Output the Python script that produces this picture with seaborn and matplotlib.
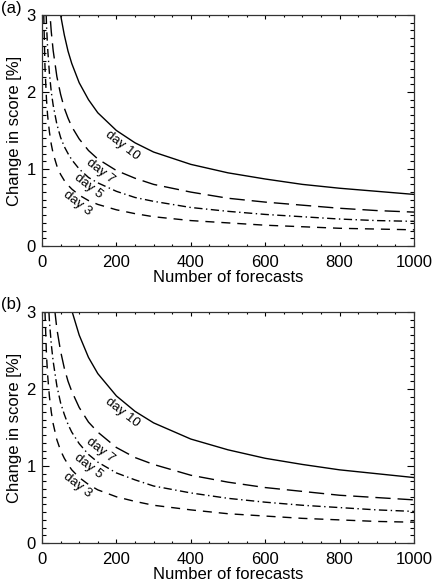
import numpy as np
import pandas as pd
import matplotlib
matplotlib.use("Agg")
import matplotlib.pyplot as plt
from matplotlib.ticker import MultipleLocator
import seaborn as sns

# number of forecasts (x) shared by all curves
n_forecasts = [4, 5, 8, 12, 15, 20, 25, 30, 40, 50, 60, 70, 80, 100, 125, 150,
               200, 250, 300, 400, 500, 600, 700, 800, 900, 1000]

# panel (a), change in score [%]
a_day10 = [10.6, 9.48, 7.50, 6.12, 5.47, 4.74, 4.24, 3.87, 3.35, 3.00, 2.74, 2.53, 2.37, 2.12, 1.90, 1.73,
           1.50, 1.34, 1.22, 1.06, 0.95, 0.87, 0.80, 0.75, 0.71, 0.67]
a_day7 = [6.95, 6.22, 4.91, 4.01, 3.59, 3.11, 2.78, 2.54, 2.20, 1.97, 1.79, 1.66, 1.55, 1.39, 1.24, 1.13,
          0.98, 0.88, 0.80, 0.70, 0.62, 0.57, 0.53, 0.49, 0.46, 0.44]
a_day5 = [5.00, 4.47, 3.54, 2.89, 2.58, 2.24, 2.00, 1.83, 1.58, 1.41, 1.29, 1.20, 1.12, 1.00, 0.89, 0.82,
          0.71, 0.63, 0.58, 0.50, 0.45, 0.41, 0.38, 0.35, 0.33, 0.32]
a_day3 = [3.30, 2.95, 2.33, 1.91, 1.70, 1.48, 1.32, 1.20, 1.04, 0.93, 0.85, 0.79, 0.74, 0.66, 0.59, 0.54,
          0.47, 0.42, 0.38, 0.33, 0.30, 0.27, 0.25, 0.23, 0.22, 0.21]

# panel (b)
b_day10 = [13.5, 12.1, 9.55, 7.79, 6.97, 6.04, 5.40, 4.93, 4.27, 3.82, 3.49, 3.23, 3.02, 2.70, 2.41, 2.20,
           1.91, 1.71, 1.56, 1.35, 1.21, 1.10, 1.02, 0.95, 0.90, 0.85]
b_day7 = [8.80, 7.87, 6.22, 5.08, 4.54, 3.94, 3.52, 3.21, 2.78, 2.49, 2.27, 2.10, 1.97, 1.76, 1.57, 1.44,
          1.24, 1.11, 1.02, 0.88, 0.79, 0.72, 0.67, 0.62, 0.59, 0.56]
b_day5 = [6.45, 5.77, 4.56, 3.72, 3.33, 2.88, 2.58, 2.36, 2.04, 1.82, 1.67, 1.54, 1.44, 1.29, 1.15, 1.05,
          0.91, 0.82, 0.74, 0.65, 0.58, 0.53, 0.49, 0.46, 0.43, 0.41]
b_day3 = [4.25, 3.80, 3.01, 2.45, 2.19, 1.90, 1.70, 1.55, 1.34, 1.20, 1.10, 1.02, 0.95, 0.85, 0.76, 0.69,
          0.60, 0.54, 0.49, 0.43, 0.38, 0.35, 0.32, 0.30, 0.28, 0.27]

day_names = ["day 10", "day 7", "day 5", "day 3"]
# label anchor positions (N, score) for each panel
label_n = [215, 156, 124, 94]
label_a = [1.31, 0.97, 0.77, 0.56]
label_b = [1.69, 1.21, 1.00, 0.75]

styles = ["-", (0, (11, 5)), (0, (6, 2.5, 1, 2.5)), (0, (6.5, 5))]

sns.set_style("ticks")
plt.rcParams["font.family"] = ["Liberation Sans", "DejaVu Sans"]
plt.rcParams["text.color"] = "black"
plt.rcParams["axes.labelcolor"] = "black"

fig = plt.figure(figsize=(4.32, 5.85), dpi=100)
ax_a = fig.add_axes([0.0972, 0.5795, 0.8611, 0.3949])
ax_b = fig.add_axes([0.0972, 0.0718, 0.8611, 0.3949])

panels = [
    (ax_a, [a_day10, a_day7, a_day5, a_day3], label_a, "(a)", 0.986),
    (ax_b, [b_day10, b_day7, b_day5, b_day3], label_b, "(b)", 0.479),
]

for ax, series, lab_y, tag, tag_y in panels:
    for vals, ls in zip(series, styles):
        sns.lineplot(x=n_forecasts, y=vals, ax=ax, color="black", linewidth=1.0, linestyle=ls)
    for name, xn, yv in zip(day_names, label_n, lab_y):
        ax.text(xn, yv, name, rotation=-38, ha="center", va="center", fontsize=9.5,
                rotation_mode="anchor", color="black")
    ax.set_xlim(0, 1000)
    ax.set_ylim(0, 3)
    ax.xaxis.set_major_locator(MultipleLocator(200))
    ax.xaxis.set_minor_locator(MultipleLocator(50))
    ax.yaxis.set_major_locator(MultipleLocator(1))
    ax.yaxis.set_minor_locator(MultipleLocator(0.1))
    ax.tick_params(which="both", direction="in", top=True, right=True, labelsize=12,
                   colors="black", labelcolor="black", width=0.8)
    ax.tick_params(axis="x", which="major", pad=6.5, length=3)
    ax.tick_params(axis="x", which="minor", length=1.6)
    ax.tick_params(axis="y", which="major", pad=4.5, length=5)
    ax.tick_params(axis="y", which="minor", length=2.6)
    for sp in ax.spines.values():
        sp.set_linewidth(0.9)
        sp.set_color("#333333")
        sp.set_visible(True)
    ax.set_xlabel("Number of forecasts", fontsize=12, labelpad=0)
    ax.set_ylabel("Change in score [%]", fontsize=12, labelpad=3)
    fig.text(0.002, tag_y, tag, fontsize=12, ha="left", va="center", color="black")

fig.savefig("out.png", dpi=100)
